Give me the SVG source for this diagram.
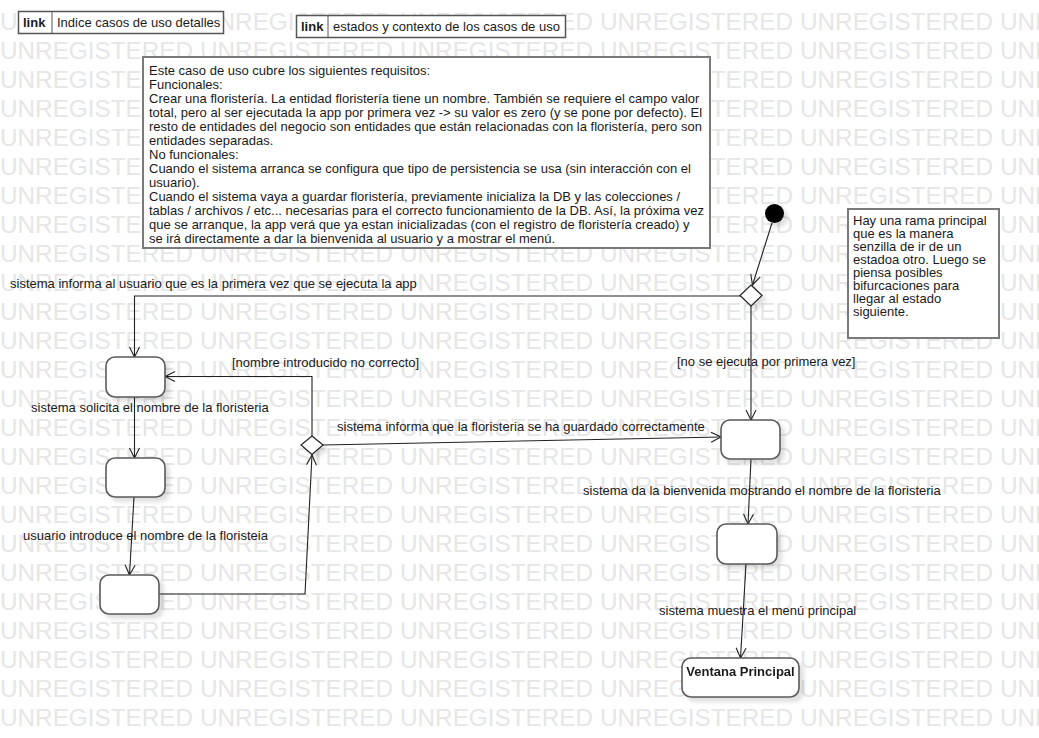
<svg xmlns="http://www.w3.org/2000/svg" xmlns:xlink="http://www.w3.org/1999/xlink" width="1039" height="738" viewBox="0 0 1039 738">
  <style>
    text { font-family: "Liberation Sans", Arial, sans-serif; }
    .wm { font-size: 24.3px; fill: #e6e6e6; }
    .lbl { font-size: 13px; fill: #1a1a1a; }
    .note { fill: #ffffff; stroke: #7a7a7a; stroke-width: 2; }
    .state { fill: #ffffff; stroke: #5a5a5a; stroke-width: 1.6; }
    .link { fill: #ffffff; stroke: #555555; stroke-width: 1.5; }
    .edge { fill: none; stroke: #222222; stroke-width: 1.1; }
    .bold { font-weight: bold; }
  </style>
  <defs>
    <filter id="shadow" x="-20%" y="-20%" width="150%" height="150%">
      <feDropShadow dx="4" dy="4" stdDeviation="2" flood-color="#000000" flood-opacity="0.13"/>
    </filter>
    <marker id="arrow" markerWidth="12" markerHeight="12" refX="11" refY="6" orient="auto" markerUnits="userSpaceOnUse">
      <path d="M1,1 L11,6 L1,11" fill="none" stroke="#222222" stroke-width="1.1"/>
    </marker>
    <text id="wmrow" class="wm"><tspan x="0">UNREGISTERED</tspan><tspan x="200">UNREGISTERED</tspan><tspan x="400">UNREGISTERED</tspan><tspan x="600">UNREGISTERED</tspan><tspan x="800">UNREGISTERED</tspan><tspan x="1000">UNREGISTERED</tspan></text>
  </defs>

  <rect width="1039" height="738" fill="#ffffff"/>

  <!-- background watermark rows -->
  <g id="watermark">
    <use xlink:href="#wmrow" y="30"/>
    <use xlink:href="#wmrow" y="59"/>
    <use xlink:href="#wmrow" y="88"/>
    <use xlink:href="#wmrow" y="117"/>
    <use xlink:href="#wmrow" y="146"/>
    <use xlink:href="#wmrow" y="175"/>
    <use xlink:href="#wmrow" y="204"/>
    <use xlink:href="#wmrow" y="233"/>
    <use xlink:href="#wmrow" y="262"/>
    <use xlink:href="#wmrow" y="291"/>
    <use xlink:href="#wmrow" y="320"/>
    <use xlink:href="#wmrow" y="349"/>
    <use xlink:href="#wmrow" y="378"/>
    <use xlink:href="#wmrow" y="407"/>
    <use xlink:href="#wmrow" y="436"/>
    <use xlink:href="#wmrow" y="465"/>
    <use xlink:href="#wmrow" y="494"/>
    <use xlink:href="#wmrow" y="523"/>
    <use xlink:href="#wmrow" y="552"/>
    <use xlink:href="#wmrow" y="581"/>
    <use xlink:href="#wmrow" y="610"/>
    <use xlink:href="#wmrow" y="639"/>
    <use xlink:href="#wmrow" y="668"/>
    <use xlink:href="#wmrow" y="697"/>
    <use xlink:href="#wmrow" y="726"/>
  </g>

  <!-- hyperlinks -->
  <g id="link-indice">
    <rect class="link" x="18.5" y="11.5" width="205" height="22"/>
    <line x1="52" y1="11.5" x2="52" y2="33.5" stroke="#555555" stroke-width="1"/>
    <text class="lbl bold" x="23" y="27">link</text>
    <text class="lbl" x="57" y="27">Indice casos de uso detalles</text>
  </g>
  <g id="link-estados">
    <rect class="link" x="296.5" y="15.5" width="269" height="22"/>
    <line x1="328" y1="15.5" x2="328" y2="37.5" stroke="#555555" stroke-width="1"/>
    <text class="lbl bold" x="301" y="31">link</text>
    <text class="lbl" x="333" y="31">estados y contexto de los casos de uso</text>
  </g>

  <!-- requirement notes -->
  <g id="note-requisitos">
    <rect class="note" x="143" y="57" width="567" height="191"/>
    <text class="lbl" x="149">
      <tspan x="149" y="74.5">Este caso de uso cubre los siguientes requisitos:</tspan>
      <tspan x="149" y="88.5">Funcionales:</tspan>
      <tspan x="149" y="102.5">Crear una floristería. La entidad floristería tiene un nombre. También se requiere el campo valor</tspan>
      <tspan x="149" y="116.5">total, pero al ser ejecutada la app por primera vez -&gt; su valor es zero (y se pone por defecto). El</tspan>
      <tspan x="149" y="130.5">resto de entidades del negocio son entidades que están relacionadas con la floristería, pero son</tspan>
      <tspan x="149" y="144.5">entidades separadas.</tspan>
      <tspan x="149" y="158.5">No funcionales:</tspan>
      <tspan x="149" y="172.5">Cuando el sistema arranca se configura que tipo de persistencia se usa (sin interacción con el</tspan>
      <tspan x="149" y="186.5">usuario).</tspan>
      <tspan x="149" y="200.5">Cuando el sistema vaya a guardar floristería, previamente inicializa la DB y las colecciones /</tspan>
      <tspan x="149" y="214.5">tablas / archivos / etc... necesarias para el correcto funcionamiento de la DB. Así, la próxima vez</tspan>
      <tspan x="149" y="228.5">que se arranque, la app verá que ya estan inicializadas (con el registro de floristería creado) y</tspan>
      <tspan x="149" y="242.5">se irá directamente a dar la bienvenida al usuario y a mostrar el menú.</tspan>
    </text>
  </g>
  <g id="note-rama">
    <rect class="note" x="848" y="209" width="151" height="129"/>
    <text class="lbl" x="853">
      <tspan x="853" y="225">Hay una rama principal</tspan>
      <tspan x="853" y="238">que es la manera</tspan>
      <tspan x="853" y="251">senzilla de ir de un</tspan>
      <tspan x="853" y="264">estadoa otro. Luego se</tspan>
      <tspan x="853" y="277">piensa posibles</tspan>
      <tspan x="853" y="290">bifurcaciones para</tspan>
      <tspan x="853" y="303">llegar al estado</tspan>
      <tspan x="853" y="316">siguiente.</tspan>
    </text>
  </g>

  <!-- transitions -->
  <g id="connectors">
    <line class="edge" x1="772" y1="223" x2="752.5" y2="285" marker-end="url(#arrow)"/>
    <polyline class="edge" points="740,296 134.5,296 134.5,357" marker-end="url(#arrow)"/>
    <line class="edge" x1="751" y1="306" x2="751" y2="420" marker-end="url(#arrow)"/>
    <line class="edge" x1="134.5" y1="397" x2="134.5" y2="458" marker-end="url(#arrow)"/>
    <line class="edge" x1="134" y1="497" x2="129.5" y2="575" marker-end="url(#arrow)"/>
    <polyline class="edge" points="159,594 305,594 312,455" marker-end="url(#arrow)"/>
    <polyline class="edge" points="312,436 312,376.5 165,376.5" marker-end="url(#arrow)"/>
    <line class="edge" x1="323" y1="445" x2="721" y2="437" marker-end="url(#arrow)"/>
    <line class="edge" x1="751" y1="459" x2="748" y2="524" marker-end="url(#arrow)"/>
    <line class="edge" x1="746" y1="564" x2="740.5" y2="658" marker-end="url(#arrow)"/>

    <text class="lbl" x="10" y="287.5">sistema informa al usuario que es la primera vez que se ejecuta la app</text>
    <text class="lbl" x="677" y="365.5">[no se ejecuta por primera vez]</text>
    <text class="lbl" x="232" y="367">[nombre introducido no correcto]</text>
    <text class="lbl" x="31" y="411.5">sistema solicita el nombre de la floristeria</text>
    <text class="lbl" x="337" y="431">sistema informa que la floristeria se ha guardado correctamente</text>
    <text class="lbl" x="583" y="495">sistema da la bienvenida mostrando el nombre de la floristeria</text>
    <text class="lbl" x="23" y="540">usuario introduce el nombre de la floristeia</text>
    <text class="lbl" x="659" y="615">sistema muestra el menú principal</text>
  </g>

  <!-- states -->
  <g id="initial" filter="url(#shadow)">
    <circle cx="774.5" cy="213.5" r="9.5" fill="#000000"/>
  </g>
  <g id="decision-inicio" filter="url(#shadow)">
    <polygon points="751,285 762,295.5 751,306 740,295.5" fill="#ffffff" stroke="#222222" stroke-width="1.2"/>
  </g>
  <g id="decision-nombre" filter="url(#shadow)">
    <polygon points="312,436 323,445 312,454.5 301,445" fill="#ffffff" stroke="#222222" stroke-width="1.2"/>
  </g>
  <g id="state-solicita" filter="url(#shadow)">
    <rect class="state" x="106" y="357" width="59" height="40" rx="9"/>
  </g>
  <g id="state-introduce" filter="url(#shadow)">
    <rect class="state" x="106" y="458" width="59" height="39" rx="9"/>
  </g>
  <g id="state-valida" filter="url(#shadow)">
    <rect class="state" x="100" y="575" width="59" height="39" rx="9"/>
  </g>
  <g id="state-guardado" filter="url(#shadow)">
    <rect class="state" x="721" y="420" width="59" height="39" rx="9"/>
  </g>
  <g id="state-bienvenida" filter="url(#shadow)">
    <rect class="state" x="717" y="524" width="60" height="40" rx="9"/>
  </g>
  <g id="state-ventana" filter="url(#shadow)">
    <rect class="state" x="682" y="658" width="117" height="39" rx="9"/>
    <text class="lbl bold" x="740.5" y="676" text-anchor="middle">Ventana Principal</text>
  </g>
</svg>
